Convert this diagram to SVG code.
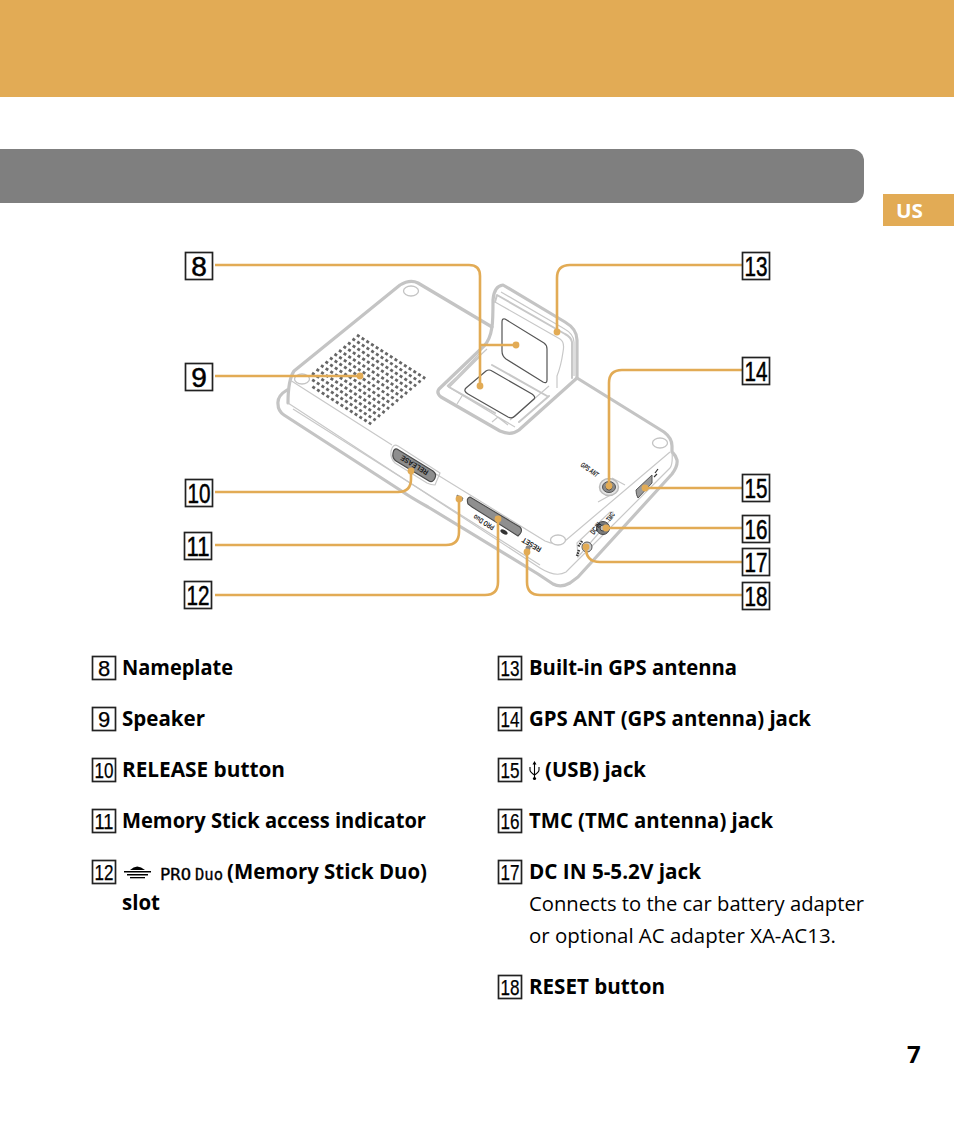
<svg xmlns="http://www.w3.org/2000/svg" width="954" height="1129" viewBox="0 0 954 1129">
<style>
.g{fill:none;stroke:#c4c4c4;stroke-width:3.2;stroke-linejoin:round;stroke-linecap:round}
.m{fill:none;stroke:#c8c8c8;stroke-width:2;stroke-linejoin:round;stroke-linecap:round}
.t{fill:none;stroke:#c8c8c8;stroke-width:1.2}
.d{fill:none;stroke:#555;stroke-width:1.2}
.c{fill:none;stroke:#e2ab55;stroke-width:2.6}
.dot{fill:#e2ab55}
.box{fill:#fff;stroke:#222;stroke-width:1.7}
.n{font-family:"Liberation Sans",sans-serif;fill:#000;stroke:#000;text-anchor:middle}
.big{font-size:28px;stroke-width:.5}
.sm{font-size:22px;stroke-width:.25}
.b{font-family:"Open Sans",sans-serif;font-weight:700;font-size:20.5px;fill:#000}
.r{font-family:"Open Sans",sans-serif;font-weight:400;font-size:20.5px;fill:#000}
.tiny{font-family:"Liberation Sans",sans-serif;font-weight:700;font-size:7.5px;fill:#1a1a1a}
.foot{fill:#fff;stroke:#c4c4c4;stroke-width:1.3}
.spk{stroke:#666;stroke-width:2.8;stroke-dasharray:3 2.58;fill:none}
</style>
<rect id="top-band" x="0" y="0" width="954" height="97" fill="#e2ab55"/>
<path id="title-band" d="M0 149H852a12 12 0 0 1 12 12V191a12 12 0 0 1-12 12H0Z" fill="#7f7f7f"/>
<g id="lang-tab"><rect x="883" y="194" width="71" height="32" fill="#e2ab55"/><text x="896" y="218" font-family="'Open Sans',sans-serif" font-weight="700" font-size="20" fill="#fff" textLength="27" lengthAdjust="spacingAndGlyphs">US</text></g>

<g id="device">
<path class="g" d="M287 390Q277 396 278 404Q278 411 284 415L400 490Q410 497 428 507L538 574L553 584Q561 588 570 583L578 577L672 474Q678 466 677 460Q676 456 673 453"/>
<path class="g" d="M492 327L418 283Q410 279 400 285L294 371Q288 380 288 403"/>
<path class="g" d="M577 378L664 432Q672 438 672 446V452"/>
<path class="t" d="M288 403L540 568Q556 578 566 572L670 468Q673 464 672 452"/>
<path class="t" d="M293 409L540 565"/>
<path class="t" d="M290 380L392 445M436 474L545 541Q556 546 565 541L670 452"/>
<ellipse class="foot" cx="411" cy="291" rx="7.5" ry="5"/>
<ellipse class="foot" cx="302" cy="379" rx="7.5" ry="5"/>
<ellipse class="foot" cx="558" cy="540" rx="7.5" ry="5"/>
<ellipse class="foot" cx="660" cy="443" rx="7.5" ry="5"/>
<g id="speaker-grille">
<path class="spk" d="M357 335l68.200 43.500M352.500 338.800l68.200 43.500M348 342.600l68.200 43.500M343.500 346.400l68.200 43.500M339 350.200l68.200 43.500M334.500 354l68.200 43.500M330 357.800l68.200 43.500M325.500 361.600l68.200 43.500M321 365.400l68.200 43.500M316.500 369.200l68.200 43.500M312 373l68.200 43.500M312.200 379.800l63.500 40.500M312.400 386.600l58.800 37.500"/>
</g>
<path class="g" d="M492 327Q493 320 493 300Q494 286 503 285L565 322Q577 329 577 340V378L519 430Q511 436 500 431L441 397Q436 393 439 389L484 346Q490 340 492 327"/>
<path class="m" d="M495 302L497 295L565 334Q571 337 572 342V378"/>
<path class="t" d="M501 292L563 328Q574 334 574 342V376M495 302L560 339Q565 342 563 352Q561 366 557 376V388M447 386L487 349M448 386L480 353M447 386L495 415L508 425M462 395L487 410M462 396L457 404M492 422L498 417L515 427M510 420L549 386"/>
<path class="m" d="M449 387L480 356M449 387L495 413M549 396L519 422M547 396L492 365"/>
<path class="d" d="M505 319L544 343Q547 345 547 349V380Q547 384 543 382L506 359Q502 356 502 351V322Q502 318 505 319Z"/>
<path class="d" d="M486 371Q489 369 492 371L532 394Q536 397 534 399L515 416Q512 419 508 417L468 394Q463 391 466 388Z"/>
<g id="release-btn">
<path class="t" d="M391 451Q393 443 398 446L440 473L435 485Q431 485 427 483L395 463Q390 458 391 451Z"/>
<path d="M397 449L433 471Q437 474 435 478Q433 483 429 481L396 461Q392 458 393 453Q394 448 397 449Z" fill="#8e8e8e" stroke="#4a4a4a" stroke-width="1.2"/>
<text class="tiny" transform="translate(429,471) rotate(211)" textLength="31" lengthAdjust="spacingAndGlyphs">RELEASE</text>
</g>
<path d="M457 495L463 498L462 501L457 499Z" fill="#777" stroke="#777" stroke-width=".8"/>
<g id="ms-slot">
<path d="M470 497L520 527Q523 530 520 534L518 536L472 507L468 504Q466 498 470 497Z" fill="#8f8f8f" stroke="#4a4a4a" stroke-width="1.1"/>
<text class="tiny" transform="translate(495,526) rotate(211)" textLength="23" lengthAdjust="spacingAndGlyphs">PRO Duo</text>
<ellipse cx="504" cy="532" rx="4" ry="2" transform="rotate(31 504 532)" fill="#333"/>
</g>
<text class="tiny" transform="translate(542,548) rotate(211)" font-size="6.500" textLength="21" lengthAdjust="spacingAndGlyphs">RESET</text>
<circle cx="528" cy="548" r="2.5" fill="#888"/>
<text class="tiny" transform="translate(580,466) rotate(35)" font-style="italic" textLength="20" lengthAdjust="spacingAndGlyphs">GPS ANT</text>
<path class="t" d="M612 478L625 485M598 502L616 492"/>
<ellipse cx="609" cy="487" rx="9.500" ry="8.500" fill="#e4e4e4" stroke="#bbb" stroke-width="1.5"/><ellipse cx="609" cy="487" rx="6.500" ry="5.500" fill="#8a8a8a" stroke="#555"/><circle cx="609" cy="487" r="3" fill="#c4c4c4" stroke="#444"/>
<path d="M652 475V483L638 498Q636 495 636 490Z" fill="#9a9a9a" stroke="#555" stroke-width="1"/>
<path d="M655 473L658 469M654 477L657 474" stroke="#333" stroke-width="1.200"/>
<path class="t" d="M577 543L610 512H613L612 518L578 557Z"/>
<circle cx="603" cy="528" r="6.500" fill="#7a7a7a" stroke="#444"/><circle cx="603" cy="528" r="3" fill="#bbb" stroke="#444"/>
<circle cx="587" cy="547" r="5" fill="#ccc" stroke="#555"/>
<text class="tiny" transform="translate(594,535) rotate(-55)" font-size="5.500" textLength="13" lengthAdjust="spacingAndGlyphs">DC IN</text>
<text class="tiny" transform="translate(610,522) rotate(-55)" font-size="5.500" textLength="9" lengthAdjust="spacingAndGlyphs">TMC</text>
<path d="M582 541L578 547M579 550L577 556" stroke="#333" stroke-width="2.500" stroke-dasharray="1.500 1"/>
</g>

<g id="connectors">
<path class="c" d="M215 265H469Q480 265 480 276V385M480 345H516"/>
<path class="c" d="M215 376H360"/>
<path class="c" d="M215 492H398Q411 492 411 479V471"/>
<path class="c" d="M215 545H446Q459 545 459 532V499"/>
<path class="c" d="M215 595H485Q498 595 498 582V519"/>
<path class="c" d="M742 265H570Q557 265 557 278V332"/>
<path class="c" d="M742 370H622Q609 370 609 383V486"/>
<path class="c" d="M742 488H645"/>
<path class="c" d="M742 528H606"/>
<path class="c" d="M742 562H600Q586 562 586 548"/>
<path class="c" d="M742 595H540Q527 595 527 582V552"/>
<circle class="dot" cx="480" cy="386" r="3.400"/><circle class="dot" cx="516" cy="345" r="3.400"/>
<circle class="dot" cx="360" cy="376" r="3.400"/><circle class="dot" cx="411" cy="471" r="3.400"/>
<circle class="dot" cx="459" cy="499" r="3.400"/><circle class="dot" cx="498" cy="519" r="3.400"/>
<circle class="dot" cx="557" cy="332" r="3.400"/><circle class="dot" cx="609" cy="486" r="3.400"/>
<circle class="dot" cx="645" cy="488" r="3.400"/><circle class="dot" cx="606" cy="528" r="3.400"/>
<circle class="dot" cx="586" cy="547" r="3.400"/><circle class="dot" cx="527" cy="552" r="3.400"/>
</g>

<g id="callout-8"><rect class="box" x="185.500" y="252.500" width="27" height="27"/><text class="n big" x="199" y="276">8</text></g>
<g id="callout-9"><rect class="box" x="185.500" y="363.500" width="27" height="27"/><text class="n big" x="199" y="387">9</text></g>
<g id="callout-10"><rect class="box" x="185.500" y="479.500" width="27" height="27"/><text class="n big" x="199" y="503" textLength="23" lengthAdjust="spacingAndGlyphs">10</text></g>
<g id="callout-11"><rect class="box" x="184.500" y="532.500" width="27" height="27"/><text class="n big" x="198" y="556" textLength="23" lengthAdjust="spacingAndGlyphs">11</text></g>
<g id="callout-12"><rect class="box" x="184.500" y="581.500" width="27" height="27"/><text class="n big" x="198" y="605" textLength="23" lengthAdjust="spacingAndGlyphs">12</text></g>
<g id="callout-13"><rect class="box" x="742.500" y="252.500" width="27" height="27"/><text class="n big" x="756" y="276" textLength="23" lengthAdjust="spacingAndGlyphs">13</text></g>
<g id="callout-14"><rect class="box" x="742.500" y="357.500" width="27" height="27"/><text class="n big" x="756" y="381" textLength="23" lengthAdjust="spacingAndGlyphs">14</text></g>
<g id="callout-15"><rect class="box" x="742.500" y="474.500" width="27" height="27"/><text class="n big" x="756" y="498" textLength="23" lengthAdjust="spacingAndGlyphs">15</text></g>
<g id="callout-16"><rect class="box" x="742.500" y="515.500" width="27" height="27"/><text class="n big" x="756" y="539" textLength="23" lengthAdjust="spacingAndGlyphs">16</text></g>
<g id="callout-17"><rect class="box" x="742.500" y="548.500" width="27" height="27"/><text class="n big" x="756" y="572" textLength="23" lengthAdjust="spacingAndGlyphs">17</text></g>
<g id="callout-18"><rect class="box" x="742.500" y="582.500" width="27" height="27"/><text class="n big" x="756" y="606" textLength="23" lengthAdjust="spacingAndGlyphs">18</text></g>

<g id="legend-left">
<rect class="box" x="92.500" y="656.500" width="23" height="23"/><text class="n sm" x="104" y="676">8</text><text class="b" x="122" y="675" textLength="111" lengthAdjust="spacingAndGlyphs">Nameplate</text>
<rect class="box" x="92.500" y="707.500" width="23" height="23"/><text class="n sm" x="104" y="727">9</text><text class="b" x="122" y="726" textLength="83" lengthAdjust="spacingAndGlyphs">Speaker</text>
<rect class="box" x="92.500" y="758.500" width="23" height="23"/><text class="n sm" x="104" y="778" textLength="19" lengthAdjust="spacingAndGlyphs">10</text><text class="b" x="122" y="777" textLength="163" lengthAdjust="spacingAndGlyphs">RELEASE button</text>
<rect class="box" x="92.500" y="809.500" width="23" height="23"/><text class="n sm" x="104" y="829" textLength="19" lengthAdjust="spacingAndGlyphs">11</text><text class="b" x="122" y="828" textLength="304" lengthAdjust="spacingAndGlyphs">Memory Stick access indicator</text>
<rect class="box" x="92.500" y="860.500" width="23" height="23"/><text class="n sm" x="104" y="880" textLength="19" lengthAdjust="spacingAndGlyphs">12</text>
<g id="ms-logo" fill="#000"><path d="M130 870Q137 863 145 870Z"/><rect x="124" y="871" width="27" height="1.500"/><rect x="127" y="874" width="21" height="1.500"/><rect x="130" y="877" width="15" height="1.300"/></g>
<text x="160" y="880" font-family="'DejaVu Sans Mono',monospace" font-size="15" stroke="#000" stroke-width=".3" fill="#000" textLength="31" lengthAdjust="spacingAndGlyphs">PRO</text>
<text x="195" y="880" font-family="'DejaVu Sans Mono',monospace" font-size="15" stroke="#000" stroke-width=".3" fill="#000" textLength="28" lengthAdjust="spacingAndGlyphs">Duo</text>
<text class="b" x="227" y="879" textLength="200" lengthAdjust="spacingAndGlyphs">(Memory Stick Duo)</text>
<text class="b" x="122" y="910" textLength="38" lengthAdjust="spacingAndGlyphs">slot</text>
</g>
<g id="legend-right">
<rect class="box" x="498.500" y="656.500" width="23" height="23"/><text class="n sm" x="510" y="676" textLength="19" lengthAdjust="spacingAndGlyphs">13</text><text class="b" x="529" y="675" textLength="208" lengthAdjust="spacingAndGlyphs">Built-in GPS antenna</text>
<rect class="box" x="498.500" y="707.500" width="23" height="23"/><text class="n sm" x="510" y="727" textLength="19" lengthAdjust="spacingAndGlyphs">14</text><text class="b" x="529" y="726" textLength="282" lengthAdjust="spacingAndGlyphs">GPS ANT (GPS antenna) jack</text>
<rect class="box" x="498.500" y="758.500" width="23" height="23"/><text class="n sm" x="510" y="778" textLength="19" lengthAdjust="spacingAndGlyphs">15</text>
<g id="usb-icon"><path d="M534.500 763V778M530 767V770Q530 772 534.500 775Q539 772 539 770V767" fill="none" stroke="#000" stroke-width="1.100"/><path d="M532.500 764.500L534.500 761L536.500 764.500Z" fill="#000"/><circle cx="534.500" cy="778.500" r="1.600" fill="#000"/></g>
<text class="b" x="545" y="777" textLength="101" lengthAdjust="spacingAndGlyphs">(USB) jack</text>
<rect class="box" x="498.500" y="809.500" width="23" height="23"/><text class="n sm" x="510" y="829" textLength="19" lengthAdjust="spacingAndGlyphs">16</text><text class="b" x="529" y="828" textLength="244" lengthAdjust="spacingAndGlyphs">TMC (TMC antenna) jack</text>
<rect class="box" x="498.500" y="860.500" width="23" height="23"/><text class="n sm" x="510" y="880" textLength="19" lengthAdjust="spacingAndGlyphs">17</text><text class="b" x="529" y="879" textLength="172" lengthAdjust="spacingAndGlyphs">DC IN 5-5.2V jack</text>
<text class="r" x="529" y="911" textLength="335" lengthAdjust="spacingAndGlyphs">Connects to the car battery adapter</text>
<text class="r" x="529" y="943" textLength="307" lengthAdjust="spacingAndGlyphs">or optional AC adapter XA-AC13.</text>
<rect class="box" x="498.500" y="975.500" width="23" height="23"/><text class="n sm" x="510" y="995" textLength="19" lengthAdjust="spacingAndGlyphs">18</text><text class="b" x="529" y="994" textLength="136" lengthAdjust="spacingAndGlyphs">RESET button</text>
</g>
<text id="page-number" x="907" y="1063" font-family="'Open Sans',sans-serif" font-weight="700" font-size="24" fill="#000">7</text>
</svg>
